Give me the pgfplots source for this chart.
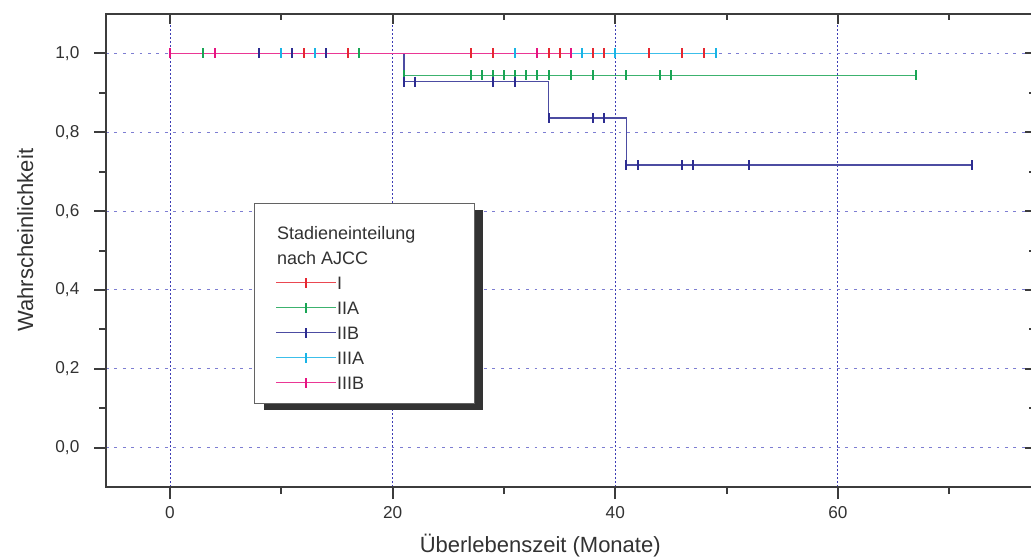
\documentclass[border=0pt]{standalone}
\usepackage{pgfplots}
\pgfplotsset{compat=1.18}
\usepackage{fontspec}
\setmainfont{Liberation Sans}
\usetikzlibrary{shadows}
\makeatletter
\tikzset{no preactions/.code={\let\tikz@preactions\pgfutil@empty}}
\makeatother
\definecolor{cI}{RGB}{230,40,50}
\definecolor{cIIA}{RGB}{25,165,85}
\definecolor{cIIB}{RGB}{45,45,145}
\definecolor{cIIIA}{RGB}{25,180,230}
\definecolor{cIIIB}{RGB}{230,20,130}
\definecolor{axgray}{RGB}{60,60,60}
\definecolor{txtgray}{RGB}{50,50,50}
\definecolor{hgrid}{RGB}{125,125,210}
\definecolor{vgrid}{RGB}{60,60,180}
\begin{document}
\begin{tikzpicture}
\pgfplotsset{
  kmline/.style={const plot, line width=0.8pt, draw=#1!85!white, mark=none, forget plot},
  kmcens/.style={only marks, mark=|, mark size=2.5pt, mark options={draw=#1, line width=1pt}, draw=#1,
     legend image code/.code={\draw[no preactions, draw=#1!85!white, line width=0.8pt] (0pt,3.3pt) -- (30pt,3.3pt);
                              \draw[no preactions, draw=#1, line width=1pt] (15pt,0.8pt) -- (15pt,5.8pt);}},
  common/.style={scale only axis, width=464.4pt, height=236.5pt,
     xmin=-5.75, xmax=77.7, ymin=-0.1, ymax=1.1,
     axis line style={draw=axgray, line width=1pt},
     xtick={0,20,40,60}, minor xtick={10,30,50,70},
     ytick={0,0.2,0.4,0.6,0.8,1.0}, minor ytick={0.1,0.3,0.5,0.7,0.9},
     tick style={draw=axgray, line width=1pt}},
}
\begin{axis}[common,
  xtick pos=left, ytick pos=left, tick align=outside,
  major tick length=6pt, minor tick length=3.5pt,
  xmajorgrids, ymajorgrids,
  x grid style={draw=vgrid, line width=0.5pt, dash pattern=on 0.9pt off 1.1pt},
  y grid style={draw=hgrid, line width=0.5pt, dash pattern=on 1.4pt off 2.8pt},
  tick label style={font=\fontsize{8.6}{10}\selectfont, text=txtgray},
  /pgf/number format/assume math mode=true,
  yticklabel style={xshift=-3.8pt, /pgf/number format/.cd, fixed, fixed zerofill, precision=1, use comma},
  xlabel={Überlebenszeit (Monate)}, ylabel={Wahrscheinlichkeit},
  every axis x label/.style={at={(rel axis cs:0.4674,0)}, yshift=-32.5pt, anchor=base, font=\fontsize{11}{13}\selectfont, text=txtgray},
  every axis y label/.style={at={(rel axis cs:0,0.522)}, xshift=-36.5pt, rotate=90, anchor=base, font=\fontsize{11}{13}\selectfont, text=txtgray},
  legend style={at={(axis cs:7.55,0.6216)}, anchor=north west, draw=axgray!80, line width=0.5pt, fill=white,
     drop shadow={shadow xshift=4.5pt, shadow yshift=-3.5pt, fill=black!80, opacity=1},
     inner xsep=10.5pt, inner ysep=4.5pt, row sep=3pt,
     nodes={inner sep=0pt, text height=7pt, text depth=2.5pt, font=\fontsize{9}{10}\selectfont, text=txtgray}},
  legend cell align=left,
]
% step curves
\addplot[kmline=cI]    coordinates {(0,1) (48,1)};
\addplot[kmline=cIIA]  coordinates {(0,1) (21,0.9444) (67,0.9444)};
\addplot[kmline=cIIB]  coordinates {(0,1) (21,0.9286) (34,0.8357) (41,0.7163) (72,0.7163)};
\addplot[kmline=cIIIA] coordinates {(0,1) (49,1)};
\addplot[kmline=cIIIB] coordinates {(0,1) (36,1)};
% legend title
\addlegendimage{empty legend}
\addlegendentry[anchor=base west, text height=13.5pt]{\hspace{-30pt}Stadieneinteilung\rule{19pt}{0pt}}
\addlegendimage{empty legend}
\addlegendentry[anchor=base west]{\hspace{-30pt}nach AJCC}
% censor marks
\addplot[kmcens=cI] coordinates {(12,1) (16,1) (27,1) (29,1) (34,1) (35,1) (38,1) (39,1) (43,1) (46,1) (48,1)};
\addlegendentry[anchor=base west]{I}
\addplot[kmcens=cIIA] coordinates {(3,1) (17,1) (21,0.9444) (27,0.9444) (28,0.9444) (29,0.9444) (30,0.9444) (31,0.9444) (32,0.9444) (33,0.9444) (34,0.9444) (36,0.9444) (38,0.9444) (41,0.9444) (44,0.9444) (45,0.9444) (67,0.9444)};
\addlegendentry[anchor=base west]{IIA}
\addplot[kmcens=cIIB] coordinates {(8,1) (11,1) (14,1) (21,0.9286) (22,0.9286) (29,0.9286) (31,0.9286) (34,0.8357) (38,0.8357) (39,0.8357) (41,0.7163) (42,0.7163) (46,0.7163) (47,0.7163) (52,0.7163) (72,0.7163)};
\addlegendentry[anchor=base west]{IIB}
\addplot[kmcens=cIIIA] coordinates {(10,1) (13,1) (31,1) (37,1) (40,1) (49,1)};
\addlegendentry[anchor=base west]{IIIA}
\addplot[kmcens=cIIIB] coordinates {(0,1) (4,1) (33,1) (36,1)};
\addlegendentry[anchor=base west]{IIIB}
\end{axis}
\begin{axis}[common,
  xtick pos=right, ytick pos=right, tick align=inside,
  major tick length=5pt, minor tick length=3pt,
  xticklabels={}, yticklabels={},
]
\addplot[draw=none, forget plot] coordinates {(0,0)};
\end{axis}
\pgfresetboundingbox
\path ([shift={(-53pt,-36pt)}]current axis.south west) rectangle ([shift={(-2pt,7pt)}]current axis.north east);
\end{tikzpicture}
\end{document}
